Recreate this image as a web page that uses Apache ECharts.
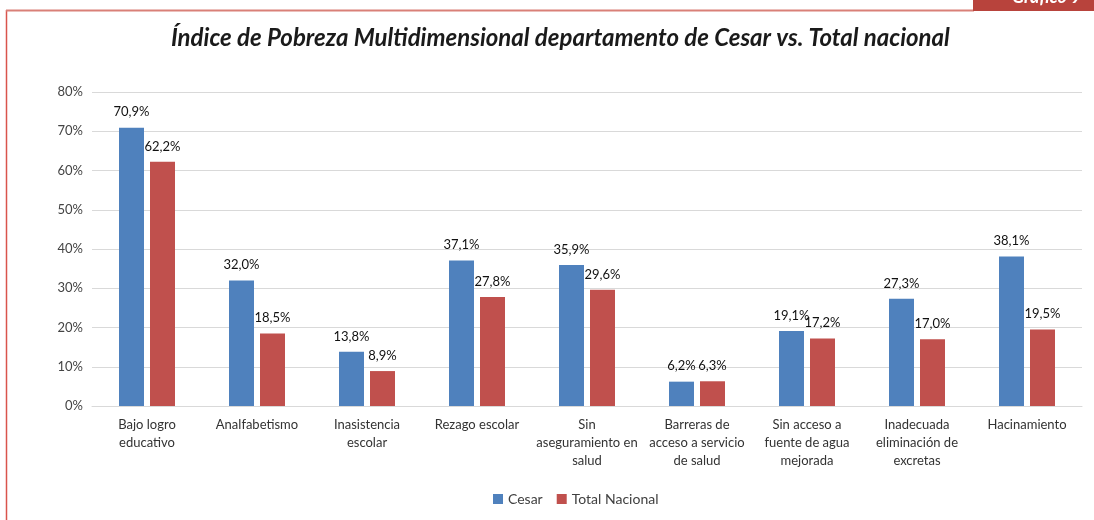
<!DOCTYPE html>
<html>
<head>
<meta charset="utf-8">
<script src="https://cdn.jsdelivr.net/npm/echarts@6/dist/echarts.min.js"></script>
<style>
html,body{margin:0;padding:0;background:#fff;}
#main{width:1094px;height:520px;}
</style>
</head>
<body>
<div id="main"></div>
<script>
var categorias = ['Bajo logro\neducativo', 'Analfabetismo', 'Inasistencia\nescolar', 'Rezago escolar',
  'Sin\naseguramiento en\nsalud', 'Barreras de\nacceso a servicio\nde salud', 'Sin acceso a\nfuente de agua\nmejorada',
  'Inadecuada\neliminación de\nexcretas', 'Hacinamiento'];
var cesar = [70.9, 32.0, 13.8, 37.1, 35.9, 6.2, 19.1, 27.3, 38.1];
var totalNacional = [62.2, 18.5, 8.9, 27.8, 29.6, 6.3, 17.2, 17.0, 19.5];
var ticksY = [0, 10, 20, 30, 40, 50, 60, 70, 80];

var fuente = 'Lato';
var myChart = echarts.init(document.getElementById('main'));

function etiqueta(p) {
  return p.value.toFixed(1).replace('.', ',') + '%';
}

var option = {
  animation: false,
  title: {
    text: 'Índice de Pobreza Multidimensional departamento de Cesar vs. Total nacional',
    left: 166,
    top: 21,
    textStyle: { fontFamily: fuente, fontStyle: 'italic', fontWeight: 'bold', fontSize: 24, color: '#1a1a1a' }
  },
  legend: {
    data: ['Cesar', 'Total Nacional'],
    bottom: 9,
    left: 488,
    itemWidth: 10,
    itemHeight: 10,
    itemGap: 14,
    icon: 'rect',
    textStyle: { fontFamily: fuente, fontSize: 14, color: '#404040' }
  },
  grid: { left: 92, right: 12, top: 92, bottom: 114, containLabel: false },
  xAxis: {
    type: 'category',
    data: categorias,
    axisLine: { lineStyle: { color: '#d9d9d9' } },
    axisTick: { show: false },
    axisLabel: { fontFamily: fuente, fontSize: 13, color: '#333', lineHeight: 18, margin: 10, interval: 0 }
  },
  yAxis: {
    type: 'value',
    min: ticksY[0],
    max: ticksY[ticksY.length - 1],
    interval: 10,
    axisLine: { show: false },
    axisTick: { show: false },
    splitLine: { lineStyle: { color: '#d9d9d9' } },
    axisLabel: { fontFamily: fuente, fontSize: 13, color: '#444', margin: 9, formatter: '{value}%' }
  },
  series: [
    {
      name: 'Cesar',
      type: 'bar',
      data: cesar,
      barWidth: 25,
      barGap: '24%',
      itemStyle: { color: '#4f81bd' },
      label: { show: true, position: 'top', distance: 9, formatter: etiqueta, fontFamily: fuente, fontSize: 13, color: '#111' }
    },
    {
      name: 'Total Nacional',
      type: 'bar',
      data: totalNacional,
      barWidth: 25,
      itemStyle: { color: '#c0504d' },
      label: { show: true, position: 'top', distance: 9, formatter: etiqueta, fontFamily: fuente, fontSize: 13, color: '#111' }
    }
  ],
  graphic: [
    { type: 'line', shape: { x1: 6.5, y1: 10, x2: 6.5, y2: 520 }, style: { stroke: '#d9544d', lineWidth: 1.5 } },
    { type: 'line', shape: { x1: 6, y1: 10.5, x2: 974, y2: 10.5 }, style: { stroke: '#d98078', lineWidth: 2 } },
    { type: 'rect', shape: { x: 973, y: 0, width: 121, height: 11 }, style: { fill: '#b8433c' } },
    { type: 'text', x: 1012, y: -12, style: { text: 'Gráfico 9', fill: '#fff', font: 'italic bold 18px Lato' } }
  ]
};

myChart.setOption(option);
window.addEventListener('resize', function () { myChart.resize(); });
</script>
</body>
</html>
